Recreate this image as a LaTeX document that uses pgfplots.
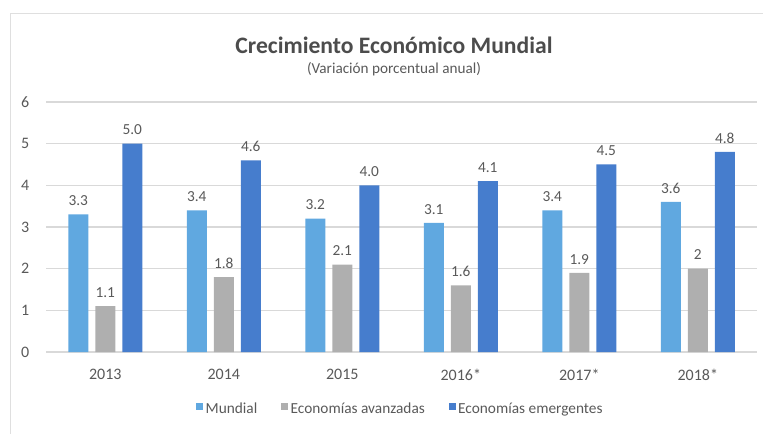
\documentclass[border=0pt]{standalone}
\usepackage{pgfplots}
\pgfplotsset{compat=1.18}
\usepackage{fontspec}
\setmainfont{Carlito}
\definecolor{mundial}{RGB}{96,168,224}
\definecolor{avanz}{RGB}{175,175,175}
\definecolor{emerg}{RGB}{70,125,205}
\definecolor{txt}{RGB}{89,89,89}
\definecolor{grd}{RGB}{217,217,217}
\begin{document}
\begin{tikzpicture}
\useasboundingbox (0,0) rectangle (572.25pt,-325.5pt);
% faint chart frame
\draw[gray!25, line width=0.6pt] (7.5pt,-325.5pt) -- (7.5pt,-9.75pt) -- (572.25pt,-9.75pt);
\node[font=\fontsize{17.7}{20}\selectfont\bfseries, text=txt!85!black] at (295.5pt,-33.75pt) {Crecimiento Económico Mundial};
\node[font=\fontsize{11.4}{13}\selectfont, text=txt] at (295.5pt,-52pt) {(Variación porcentual anual)};
\begin{axis}[
    at={(34.5pt,-264pt)}, anchor=south west,
    scale only axis,
    width=533.25pt, height=187.5pt,
    ybar=5.25pt, bar width=15pt,
    xmin=-0.5, xmax=5.5,
    ymin=0, ymax=6,
    xtick=data,
    xticklabels={2013,2014,2015,2016*,2017*,2018*},
    ytick={0,1,...,6},
    axis line style={draw=none},
    tick style={draw=none},
    ymajorgrids, grid style={grd, line width=0.8pt},
    ticklabel style={font=\fontsize{12}{14}\selectfont, text=txt},
    /pgf/number format/assume math mode=true,
    xticklabel style={yshift=-5pt},
    yticklabel style={xshift=-9pt},
    nodes near coords,
    point meta=explicit symbolic,
    every node near coord/.append style={font=\fontsize{11.5}{13}\selectfont, text=txt, yshift=3pt},
    legend columns=3,
    legend style={at={(0.499,-0.23)}, anchor=center, draw=none, fill=none,
        font=\fontsize{11.5}{13}\selectfont, text=txt,
        /tikz/every even column/.append style={column sep=16pt}},
    legend image code/.code={\fill[#1] (2pt,0pt) rectangle (7pt,5pt);},
]
\addplot[fill=mundial, draw=none] coordinates {
    (0,3.3) [3.3] (1,3.4) [3.4] (2,3.2) [3.2] (3,3.1) [3.1] (4,3.4) [3.4] (5,3.6) [3.6]
};
\addlegendentry{Mundial}
\addplot[fill=avanz, draw=none] coordinates {
    (0,1.1) [1.1] (1,1.8) [1.8] (2,2.1) [2.1] (3,1.6) [1.6] (4,1.9) [1.9] (5,2.0) [2]
};
\addlegendentry{Economías avanzadas}
\addplot[fill=emerg, draw=none] coordinates {
    (0,5.0) [5.0] (1,4.6) [4.6] (2,4.0) [4.0] (3,4.1) [4.1] (4,4.5) [4.5] (5,4.8) [4.8]
};
\addlegendentry{Economías emergentes}
\end{axis}
\end{tikzpicture}
\end{document}
